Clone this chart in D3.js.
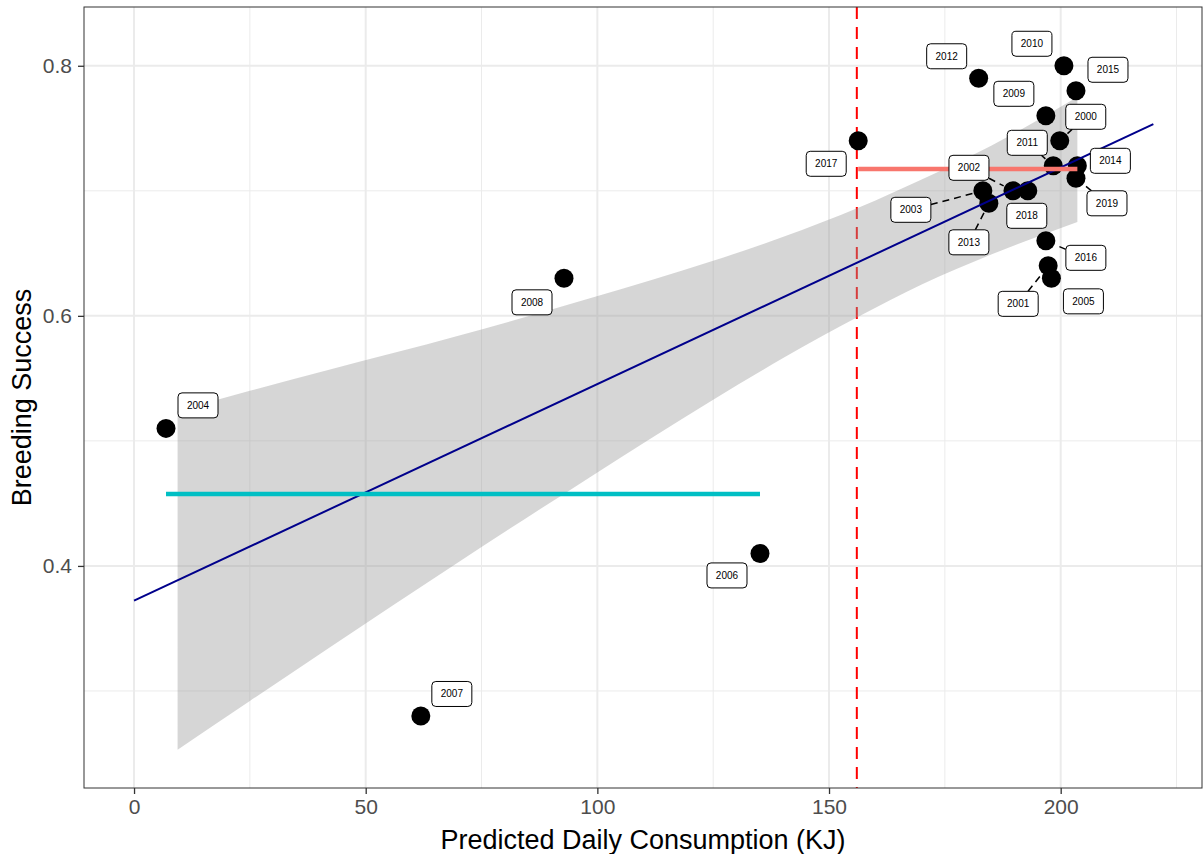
<!DOCTYPE html>
<html>
<head>
<meta charset="utf-8">
<script src="https://cdn.jsdelivr.net/npm/d3@7"></script>
<style>
  body { margin: 0; background: #fff; }
  svg text { font-family: Arial, "Liberation Sans", sans-serif; }
</style>
</head>
<body>
<div id="chart"></div>
<script>
// data
var years = [2000, 2001, 2002, 2003, 2004, 2005, 2006, 2007, 2008, 2009,
             2010, 2011, 2012, 2013, 2014, 2015, 2016, 2017, 2018, 2019];
var consumption = [199.8, 197.3, 189.7, 183.2, 6.9, 198.0, 135.1, 61.9, 92.8, 196.8,
                   200.7, 198.4, 182.3, 184.5, 203.6, 203.3, 196.8, 156.3, 192.9, 203.3];
var success = [0.74, 0.64, 0.70, 0.70, 0.51, 0.63, 0.41, 0.28, 0.63, 0.76,
               0.80, 0.72, 0.79, 0.69, 0.72, 0.78, 0.66, 0.74, 0.70, 0.71];

var threshold = 156;

// regression line and its confidence band
var fitX = [0, 220];
var fitY = [0.3722, 0.7533];
var ribbonX  = [9.4, 25, 42.3, 70, 98.4, 125, 140, 156.7, 170, 185, 203.6];
var ribbonLo = [0.253, 0.292, 0.335, 0.403, 0.471, 0.533, 0.566, 0.600, 0.625, 0.649, 0.675];
var ribbonHi = [0.524, 0.540, 0.557, 0.584, 0.614, 0.644, 0.663, 0.687, 0.709, 0.736, 0.775];

var xTicks = [0, 50, 100, 150, 200];
var xMinor = [25, 75, 125, 175, 225];
var yTicks = [0.4, 0.6, 0.8];
var yMinor = [0.3, 0.5, 0.7];

// where ggrepel put the year labels (pixel offset from the point)
var labelDx = [26, -30, -44, -72, 32, 32, -33, 31, -32, -32, -32, -26, -32, -20, 33, 32, 40, -32, -1, 31];
var labelDy = [-24, 38, -23, 19, -23, 23, 22, -22, 24, -22, -22, -23, -22, 39, -5, -21, 17, 23, 25, 25];
// labels whose leader segment is drawn
var withSegment = [2000, 2001, 2002, 2003, 2011, 2013, 2016, 2019];

var width = 1203, height = 854;
var panel = {left: 84, right: 1202, top: 7, bottom: 788};

var svg = d3.select('#chart').append('svg')
  .attr('width', width).attr('height', height);

var x = d3.scaleLinear().domain([-10.8, 230.5]).range([panel.left, panel.right]);
var y = d3.scaleLinear().domain([0.2224, 0.847]).range([panel.bottom, panel.top]);

svg.append('defs').append('clipPath').attr('id', 'clip')
  .append('rect')
  .attr('x', panel.left).attr('y', panel.top)
  .attr('width', panel.right - panel.left).attr('height', panel.bottom - panel.top);

//grid
var grid = svg.append('g');
grid.selectAll('.xmin').data(xMinor).enter().append('line')
  .attr('x1', d => x(d)).attr('x2', d => x(d))
  .attr('y1', panel.top).attr('y2', panel.bottom)
  .attr('stroke', '#ebebeb').attr('stroke-width', 1);
grid.selectAll('.ymin').data(yMinor).enter().append('line')
  .attr('y1', d => y(d)).attr('y2', d => y(d))
  .attr('x1', panel.left).attr('x2', panel.right)
  .attr('stroke', '#ebebeb').attr('stroke-width', 1);
grid.selectAll('.xmaj').data(xTicks).enter().append('line')
  .attr('x1', d => x(d)).attr('x2', d => x(d))
  .attr('y1', panel.top).attr('y2', panel.bottom)
  .attr('stroke', '#ebebeb').attr('stroke-width', 2);
grid.selectAll('.ymaj').data(yTicks).enter().append('line')
  .attr('y1', d => y(d)).attr('y2', d => y(d))
  .attr('x1', panel.left).attr('x2', panel.right)
  .attr('stroke', '#ebebeb').attr('stroke-width', 2);

var plot = svg.append('g').attr('clip-path', 'url(#clip)');

// threshold line
plot.append('line')
  .attr('x1', x(threshold)).attr('x2', x(threshold))
  .attr('y1', panel.top).attr('y2', panel.bottom)
  .attr('stroke', '#ff0000').attr('stroke-width', 2)
  .attr('stroke-dasharray', '12,8');

// confidence band
var band = ribbonX.map((d, i) => [d, ribbonLo[i], ribbonHi[i]]);
plot.append('path')
  .datum(band)
  .attr('fill', '#999999').attr('fill-opacity', 0.4)
  .attr('d', d3.area().x(d => x(d[0])).y0(d => y(d[1])).y1(d => y(d[2])).curve(d3.curveMonotoneX));

// points
var pts = years.map((yr, i) => ({year: yr, cx: consumption[i], bs: success[i], dx: labelDx[i], dy: labelDy[i]}));
plot.selectAll('circle').data(pts).enter().append('circle')
  .attr('cx', d => x(d.cx)).attr('cy', d => y(d.bs))
  .attr('r', 9.5).attr('fill', '#000');

// regression line
plot.append('path')
  .datum(fitX.map((d, i) => [d, fitY[i]]))
  .attr('fill', 'none').attr('stroke', '#00008b').attr('stroke-width', 2)
  .attr('d', d3.line().x(d => x(d[0])).y(d => y(d[1])));

// group means
var low = pts.filter(d => d.cx < threshold), high = pts.filter(d => d.cx >= threshold);
var groups = [
  {pts: low, color: '#00bfc4'},
  {pts: high, color: '#f8766d'}
];
groups.forEach(function(g) {
  var m = d3.mean(g.pts, d => d.bs);
  plot.append('line')
    .attr('x1', x(d3.min(g.pts, d => d.cx))).attr('x2', x(d3.max(g.pts, d => d.cx)))
    .attr('y1', y(m)).attr('y2', y(m))
    .attr('stroke', g.color).attr('stroke-width', 4.5);
});

// label segments + boxes
var bw = 40, bh = 25, r = 9.5;
var labels = plot.append('g');
pts.forEach(function(d) {
  var px = x(d.cx), py = y(d.bs);
  var lx = px + d.dx, ly = py + d.dy;
  if (withSegment.indexOf(d.year) >= 0) {
    var vx = px - lx, vy = py - ly;
    var len = Math.sqrt(vx*vx + vy*vy);
    var t = Math.min(vx ? (bw/2)/Math.abs(vx) : Infinity, vy ? (bh/2)/Math.abs(vy) : Infinity);
    labels.append('line')
      .attr('x1', lx + t*vx).attr('y1', ly + t*vy)
      .attr('x2', px - vx/len*(r + 1)).attr('y2', py - vy/len*(r + 1))
      .attr('stroke', '#000').attr('stroke-width', 1.5)
      .attr('stroke-dasharray', '7,5');
  }
  labels.append('rect')
    .attr('x', lx - bw/2).attr('y', ly - bh/2)
    .attr('width', bw).attr('height', bh).attr('rx', 4)
    .attr('fill', '#fff').attr('stroke', '#000').attr('stroke-width', 1);
  labels.append('text')
    .attr('x', lx).attr('y', ly).attr('dy', '0.35em')
    .attr('text-anchor', 'middle').attr('font-size', 10).attr('fill', '#000')
    .text(d.year);
});

// panel border
svg.append('rect')
  .attr('x', panel.left).attr('y', panel.top)
  .attr('width', panel.right - panel.left).attr('height', panel.bottom - panel.top)
  .attr('fill', 'none').attr('stroke', '#333').attr('stroke-width', 1);

// axes
var xaxis = d3.axisBottom(x).tickValues(xTicks).tickSize(6).tickPadding(5).tickFormat(d3.format('d'));
var gx = svg.append('g').attr('transform', 'translate(0,' + panel.bottom + ')').call(xaxis);
var yaxis = d3.axisLeft(y).tickValues(yTicks).tickSize(6).tickPadding(6).tickFormat(d3.format('.1f'));
var gy = svg.append('g').attr('transform', 'translate(' + panel.left + ',0)').call(yaxis);
[gx, gy].forEach(function(g) {
  g.select('.domain').remove();
  g.selectAll('line').attr('stroke', '#333').attr('stroke-width', 1.3);
  g.selectAll('text').attr('fill', '#4d4d4d').attr('font-size', 21)
    .attr('font-family', 'Arial, "Liberation Sans", sans-serif');
});

svg.append('text')
  .attr('x', (panel.left + panel.right)/2).attr('y', 849)
  .attr('text-anchor', 'middle').attr('font-size', 27).attr('fill', '#000')
  .text('Predicted Daily Consumption (KJ)');
svg.append('text')
  .attr('transform', 'translate(31,' + (panel.top + panel.bottom)/2 + ') rotate(-90)')
  .attr('text-anchor', 'middle').attr('font-size', 27).attr('fill', '#000')
  .text('Breeding Success');
</script>
</body>
</html>
